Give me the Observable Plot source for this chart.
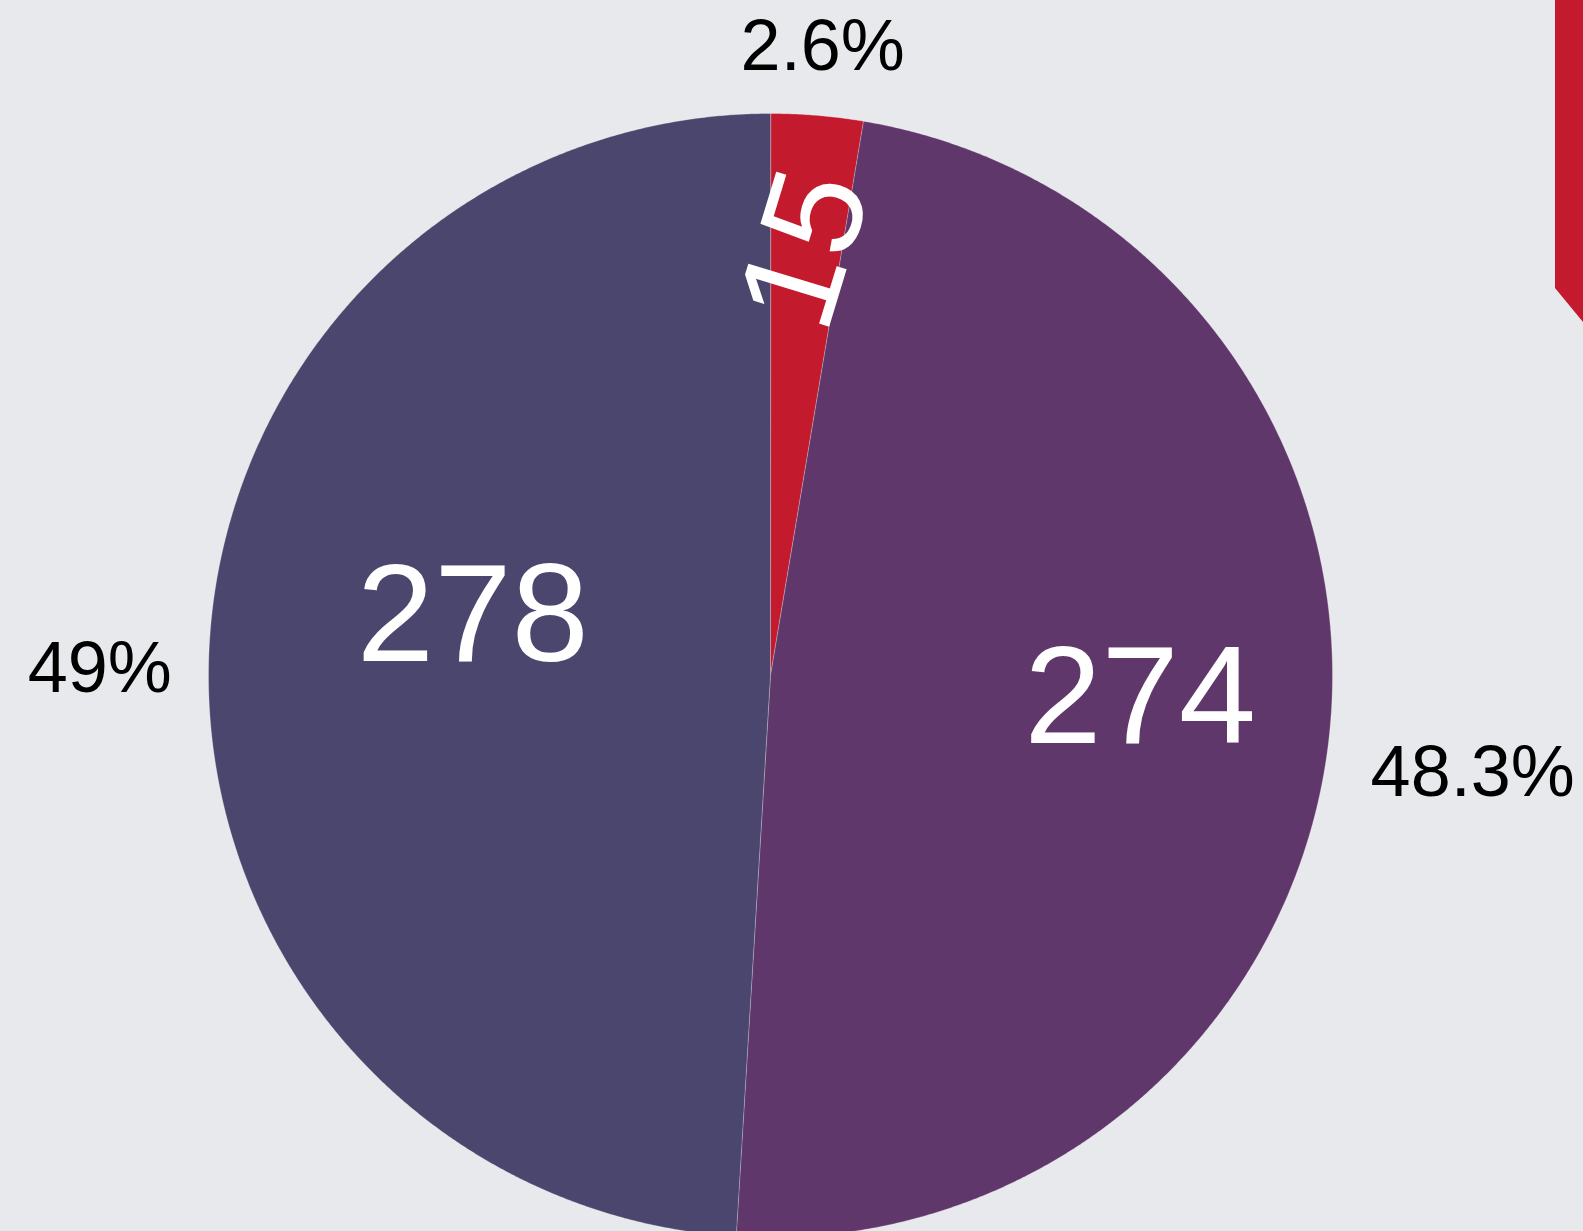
<!DOCTYPE html>
<html>
<head>
<meta charset="utf-8">
<script src="https://cdn.jsdelivr.net/npm/d3@7"></script>
<script src="https://cdn.jsdelivr.net/npm/@observablehq/plot@0.6"></script>
<style>
  html, body { margin: 0; padding: 0; background: #E8E9ED; overflow: hidden; }
  #wrap { position: relative; width: 1583px; height: 1231px; overflow: hidden; }
  #ribbon { position: absolute; left: 1555px; top: 0; width: 28px; height: 322px; background: #C41A2E;
            clip-path: polygon(0 0, 100% 0, 100% 100%, 0 calc(100% - 34px)); }
</style>
</head>
<body>
<div id="wrap"><div id="ribbon"></div></div>
<script>
// ---- data ----
const categories = ["Group A", "Group B", "Group C"];
const values = [15, 274, 278];
const colors = ["#C41A2E", "#60376B", "#4A466E"];

// ---- layout (pixels; data units equal pixels here) ----
const W = 1583, H = 1231;
const CX = 770, CY = 675, R = 562;
const total = d3.sum(values);
const fmtPct = d3.format(".1~f");

const arcs = d3.pie().sort(null).value(d => d)(values);

// slice polygons built from pie angles
const polys = [];
arcs.forEach((a, i) => {
  polys.push({cat: categories[i], x: 0, y: 0});
  const steps = Math.max(2, Math.ceil((a.endAngle - a.startAngle) / (Math.PI / 720)));
  for (let k = 0; k <= steps; k++) {
    const t = a.startAngle + (a.endAngle - a.startAngle) * k / steps;
    polys.push({cat: categories[i], x: R * Math.sin(t), y: R * Math.cos(t)});
  }
});

// value labels inside
const inFrac = [0.76, 0.662, 0.53];
const inNudge = [0, -19, -50]; // px, negative = up
const inRotate = [-73, 0, 0];
const valueLabels = arcs.map((a, i) => {
  const m = (a.startAngle + a.endAngle) / 2;
  return {
    text: String(values[i]),
    x: R * inFrac[i] * Math.sin(m),
    y: R * inFrac[i] * Math.cos(m) - inNudge[i],
    rotate: inRotate[i]
  };
});

// percent labels outside
const outR = R + 42;
const outNudgeY = [-4, 29, 12]; // px, positive = down
const outNudgeX = [2, 0, 5];    // px, positive = right
const pctLabels = arcs.map((a, i) => {
  const m = (a.startAngle + a.endAngle) / 2;
  const s = Math.sin(m), c = Math.cos(m);
  return {
    text: fmtPct(values[i] / total * 100) + "%",
    x: outR * s + outNudgeX[i],
    y: outR * c - outNudgeY[i],
    side: s > 0.3 ? "right" : s < -0.3 ? "left" : "top"
  };
});

const font = "'Liberation Sans', Arial, sans-serif";
const valSize = 139, pctSize = 72;

const chart = Plot.plot({
  width: W,
  height: H,
  margin: 0,
  x: {domain: [-CX, W - CX], axis: null},
  y: {domain: [CY - H, CY], axis: null},
  color: {domain: categories, range: colors},
  style: {background: "#E8E9ED", fontFamily: font, overflow: "hidden"},
  marks: [
    Plot.line(polys, {x: "x", y: "y", z: "cat", fill: "cat", stroke: "#ffffff",
      strokeWidth: 0.6, strokeOpacity: 0.45, curve: "linear-closed"}),
    Plot.text(valueLabels.filter(d => d.rotate !== 0), {x: "x", y: "y", text: "text", rotate: -73,
      fill: "white", fontSize: valSize, textAnchor: "middle", lineAnchor: "middle"}),
    Plot.text(valueLabels.filter(d => d.rotate === 0), {x: "x", y: "y", text: "text",
      fill: "white", fontSize: valSize, textAnchor: "middle", lineAnchor: "middle"}),
    Plot.text(pctLabels.filter(d => d.side === "right"), {x: "x", y: "y", text: "text",
      fill: "black", fontSize: pctSize, textAnchor: "start", lineAnchor: "middle"}),
    Plot.text(pctLabels.filter(d => d.side === "left"), {x: "x", y: "y", text: "text",
      fill: "black", fontSize: pctSize, textAnchor: "end", lineAnchor: "middle"}),
    Plot.text(pctLabels.filter(d => d.side === "top"), {x: "x", y: "y", text: "text",
      fill: "black", fontSize: pctSize, textAnchor: "middle", lineAnchor: "bottom"})
  ]
});
document.getElementById("wrap").prepend(chart);
</script>
</body>
</html>
